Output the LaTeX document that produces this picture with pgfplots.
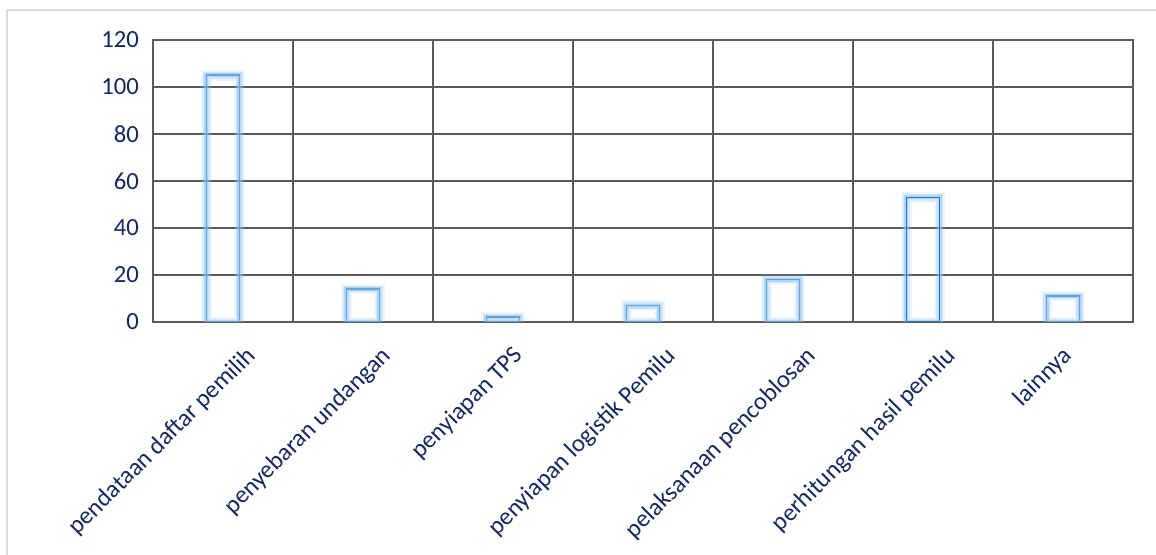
\documentclass[border=0pt]{standalone}
\usepackage{fontspec}
\setmainfont{Carlito}
\usepackage{pgfplots}
\pgfplotsset{compat=1.18}
\definecolor{txt}{HTML}{13295F}
\definecolor{gridc}{HTML}{5A5A5A}
\definecolor{barA}{HTML}{6AA3D8}
\definecolor{barB}{HTML}{2878C2}
\definecolor{glow}{HTML}{8CC0F0}
\definecolor{frame}{HTML}{DADADA}
\begin{document}
\begin{tikzpicture}
\draw[frame, line width=1.1pt] (-109.5pt,234pt) -- (770pt,234pt);
\draw[frame, line width=1.1pt] (-109.5pt,234pt) -- (-109.5pt,-190pt);
\begin{axis}[
  at={(0,0)}, anchor=south west,
  scale only axis, width=735pt, height=211.5pt,
  ymin=0, ymax=120, ytick={0,20,...,120},
  xmin=-0.5, xmax=6.5,
  xtick={0,0.964,1.907,3,4,5,5.829},
  xticklabels={pendataan daftar pemilih, penyebaran undangan, penyiapan TPS, penyiapan logistik Pemilu, pelaksanaan pencoblosan, perhitungan hasil pemilu, lainnya},
  minor xtick={-0.5,0.5,...,6.5},
  xminorgrids, ymajorgrids, xmajorgrids=false,
  major tick length=0pt, minor tick length=0pt,
  axis line style={gridc, line width=0.9pt},
  major grid style={gridc, line width=0.9pt},
  minor grid style={gridc, line width=0.9pt},
  tick style={draw=none},
  /pgf/number format/assume math mode=true,
  yticklabel style={font=\fontsize{18.5}{22}\selectfont, text=txt, xshift=-7pt},
  xticklabel style={font=\fontsize{18.5}{22}\selectfont, text=txt, inner sep=0pt, xshift=25.5pt, yshift=-26pt, rotate=45, anchor=base east},
  ybar, bar width=24.75pt, bar shift=0pt,
]
\addplot[draw=glow, draw opacity=0.15, line width=8pt, fill=none] coordinates {(0,105) (1,14) (2,2) (3,7) (4,18) (5,53) (6,11)};
\addplot[draw=glow, draw opacity=0.3, line width=5pt, fill=none] coordinates {(0,105) (1,14) (2,2) (3,7) (4,18) (5,53) (6,11)};
\addplot[draw=glow, draw opacity=0.45, line width=3pt, fill=none] coordinates {(0,105) (1,14) (2,2) (3,7) (4,18) (5,53) (6,11)};
\addplot[draw=barA, line width=1.2pt, fill=none] coordinates {(0,105) (1,14) (2,2) (3,7) (4,18) (6,11)};
\addplot[draw=barB, line width=1.2pt, fill=none] coordinates {(5,53)};
\end{axis}
\pgfresetboundingbox
\path[use as bounding box] (-114.75pt,-174.75pt) rectangle (752.25pt,241.5pt);
\end{tikzpicture}
\end{document}
